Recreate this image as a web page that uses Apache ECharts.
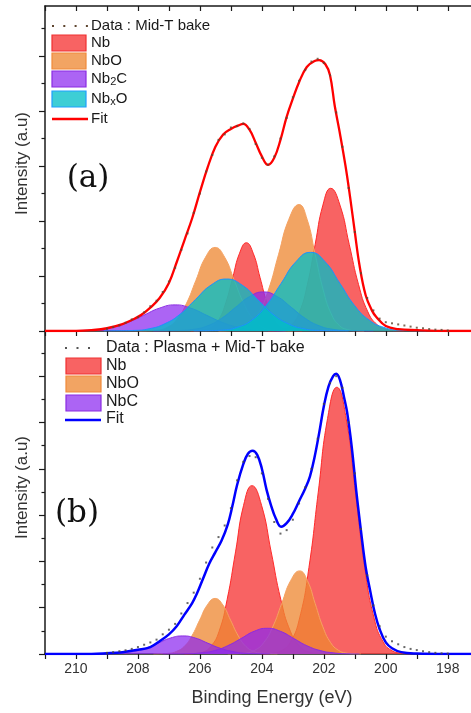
<!DOCTYPE html>
<html>
<head>
<meta charset="utf-8">
<title>Nb 3d fits</title>
<script src="https://cdn.jsdelivr.net/npm/echarts@6.0.0/dist/echarts.min.js"></script>
<style>
  html, body { margin: 0; padding: 0; background: #fff; }
  #chart { width: 471px; height: 713px; }
</style>
</head>
<body>
<div id="chart"></div>
<script>
// ---- axes ----
const X_MIN = 197.25;
const X_MAX = 211;
const xTicks = [198, 199, 200, 201, 202, 203, 204, 205, 206, 207, 208, 209, 210, 211];
const xLabels = [198, 200, 202, 204, 206, 208, 210];
const Y_MAX_A = 11.82;
const Y_MAX_B = 13.95;
const yMajorA = [0, 2, 4, 6, 8, 10];
const yMinorA = [1, 3, 5, 7, 9, 11];
const yMajorB = [0, 2, 4, 6, 8, 10, 12];
const yMinorB = [1, 3, 5, 7, 9, 11, 13];

// ---- (a) Mid-T bake : fitted components, [binding energy, intensity] ----
const nbA1 = [[203.8,0],[203.53,0.01],[203.28,0.06],[203.03,0.23],[202.78,0.70],[202.53,1.69],[202.28,3.15],[202.03,4.58],[201.78,5.19],[201.48,4.58],[201.18,3.15],[200.88,1.69],[200.58,0.70],[200.28,0.23],[199.98,0.06],[199.68,0.01],[199.4,0]];
const nbA2 = [[206.3,0],[206.04,0.01],[205.82,0.04],[205.6,0.14],[205.38,0.43],[205.16,1.04],[204.94,1.95],[204.72,2.83],[204.5,3.21],[204.28,2.83],[204.06,1.95],[203.84,1.04],[203.62,0.43],[203.4,0.14],[203.18,0.04],[202.96,0.01],[202.7,0]];
const nboA1 = [[205.4,0],[205.11,0.01],[204.78,0.05],[204.45,0.2],[204.12,0.62],[203.79,1.49],[203.46,2.79],[203.13,4.06],[202.8,4.6],[202.54,4.06],[202.28,2.79],[202.02,1.49],[201.76,0.62],[201.5,0.2],[201.24,0.05],[200.98,0.01],[200.7,0]];
const nboA2 = [[208.0,0],[207.68,0.01],[207.37,0.03],[207.06,0.13],[206.75,0.41],[206.44,0.99],[206.13,1.84],[205.82,2.68],[205.51,3.04],[205.2,2.68],[204.89,1.84],[204.58,0.99],[204.27,0.41],[203.96,0.13],[203.65,0.03],[203.34,0.01],[203.0,0]];
const nb2cA1 = [[207.5,0],[207.1,0.01],[206.65,0.02],[206.2,0.06],[205.75,0.19],[205.3,0.46],[204.85,0.86],[204.4,1.25],[203.95,1.42],[203.5,1.25],[203.05,0.86],[202.6,0.46],[202.15,0.19],[201.7,0.06],[201.25,0.02],[200.8,0.01],[200.4,0]];
const nb2cA2 = [[210.8,0],[210.37,0.01],[209.86,0.02],[209.35,0.04],[208.84,0.13],[208.33,0.31],[207.82,0.57],[207.31,0.83],[206.8,0.95],[206.29,0.83],[205.78,0.57],[205.27,0.31],[204.76,0.13],[204.25,0.04],[203.74,0.01],[203.23,0]];
const nbxoA1 = [[206.2,0],[205.76,0.01],[205.28,0.03],[204.81,0.13],[204.33,0.39],[203.86,0.93],[203.38,1.73],[202.9,2.52],[202.43,2.86],[201.96,2.52],[201.48,1.73],[201.01,0.93],[200.53,0.39],[200.06,0.13],[199.58,0.03],[199.11,0.01],[198.7,0]];
const nbxoA2 = [[209.1,0],[208.64,0.01],[208.14,0.02],[207.64,0.08],[207.14,0.26],[206.64,0.61],[206.14,1.15],[205.64,1.67],[205.14,1.89],[204.64,1.67],[204.14,1.15],[203.64,0.61],[203.14,0.26],[202.64,0.08],[202.14,0.02],[201.64,0.01],[201.2,0]];
const fitA = [[211.0,0],[210.0,0],[209.5,0.03],[209.0,0.1],[208.5,0.25],[208.2,0.4],[207.9,0.58],[207.6,0.85],[207.3,1.2],[207.0,1.75],[206.75,2.5],[206.5,3.3],[206.25,4.1],[206.0,5.05],[205.75,5.95],[205.5,6.7],[205.25,7.15],[205.0,7.35],[204.75,7.48],[204.6,7.53],[204.4,7.32],[204.2,6.85],[204.0,6.35],[203.8,6.04],[203.6,6.3],[203.4,6.95],[203.2,7.79],[203.0,8.45],[202.8,9.05],[202.55,9.6],[202.3,9.82],[202.15,9.85],[201.95,9.7],[201.8,9.3],[201.65,8.2],[201.5,7.3],[201.3,6.0],[201.15,4.85],[201.0,3.6],[200.85,2.4],[200.65,1.3],[200.45,0.75],[200.3,0.5],[200.0,0.18],[199.6,0.07],[199.0,0.03],[198.0,0],[197.25,0]];

// ---- (b) Plasma + Mid-T bake ----
const nbB1 = [[204.0,0],[203.68,0.03],[203.38,0.13],[203.08,0.51],[202.78,1.56],[202.48,3.74],[202.18,6.99],[201.88,10.17],[201.58,11.52],[201.28,10.17],[200.98,6.99],[200.68,3.74],[200.38,1.56],[200.08,0.51],[199.78,0.13],[199.48,0.03],[199.2,0]];
const nbB2 = [[206.5,0],[206.18,0.02],[205.91,0.08],[205.65,0.32],[205.38,0.98],[205.12,2.36],[204.85,4.41],[204.59,6.42],[204.32,7.27],[204.01,6.42],[203.7,4.41],[203.39,2.36],[203.08,0.98],[202.77,0.32],[202.46,0.08],[202.15,0.02],[201.8,0]];
const nboB1 = [[205.1,0],[204.81,0.01],[204.52,0.04],[204.23,0.16],[203.94,0.49],[203.65,1.17],[203.36,2.18],[203.07,3.17],[202.78,3.59],[202.53,3.17],[202.28,2.18],[202.03,1.17],[201.78,0.49],[201.53,0.16],[201.28,0.04],[201.03,0.01],[200.8,0]];
const nboB2 = [[207.5,0],[207.26,0.01],[207.01,0.03],[206.76,0.11],[206.51,0.32],[206.26,0.78],[206.01,1.46],[205.76,2.12],[205.51,2.4],[205.26,2.12],[205.01,1.46],[204.76,0.78],[204.51,0.32],[204.26,0.11],[204.01,0.03],[203.76,0.01],[203.5,0]];
const nbcB1 = [[207.2,0],[206.8,0],[206.37,0.01],[205.95,0.05],[205.52,0.15],[205.1,0.36],[204.67,0.67],[204.25,0.98],[203.82,1.11],[203.4,0.98],[202.97,0.67],[202.55,0.36],[202.12,0.15],[201.7,0.05],[201.27,0.01],[200.85,0]];
const nbcB2 = [[209.8,0],[209.35,0],[208.95,0.01],[208.55,0.03],[208.15,0.11],[207.75,0.25],[207.35,0.47],[206.95,0.69],[206.55,0.78],[206.15,0.69],[205.75,0.47],[205.35,0.25],[204.95,0.11],[204.55,0.03],[204.15,0.01],[203.75,0]];
const fitB = [[211.0,0],[209.5,0],[209.0,0.03],[208.5,0.08],[208.0,0.18],[207.6,0.3],[207.3,0.55],[207.0,0.85],[206.75,1.2],[206.5,1.7],[206.25,2.2],[206.1,2.6],[205.9,3.25],[205.7,3.9],[205.5,4.4],[205.3,4.9],[205.1,5.6],[204.95,6.4],[204.8,7.3],[204.6,8.2],[204.45,8.65],[204.3,8.78],[204.15,8.6],[204.0,8.0],[203.85,7.1],[203.7,6.4],[203.55,5.85],[203.38,5.5],[203.2,5.65],[203.0,6.05],[202.8,6.6],[202.6,7.15],[202.45,7.66],[202.3,8.5],[202.15,9.55],[202.0,10.7],[201.85,11.55],[201.7,12.0],[201.6,12.1],[201.48,11.84],[201.35,11.1],[201.25,10.45],[201.1,8.95],[200.95,7.0],[200.8,5.3],[200.65,3.75],[200.5,2.7],[200.35,1.75],[200.2,1.08],[200.0,0.5],[199.8,0.25],[199.5,0.08],[199.0,0.02],[198.0,0],[197.25,0]];

// ---- measured points (shared energy grid) ----
const dataE = [209.0, 208.8, 208.6, 208.4, 208.2, 208.0, 207.8, 207.6, 207.4, 207.2,
  207.0, 206.8, 206.6, 206.4, 206.2, 206.0, 205.8, 205.6, 205.4, 205.2,
  205.0, 204.8, 204.6, 204.4, 204.2, 204.0, 203.8, 203.6, 203.4, 203.2,
  203.0, 202.8, 202.6, 202.4, 202.2, 202.0, 201.8, 201.6, 201.4, 201.2,
  201.0, 200.8, 200.6, 200.4, 200.2, 200.0, 199.8, 199.6, 199.4, 199.2,
  199.0, 198.8, 198.6, 198.4, 198.2, 198.0];
const dataA = [0.08, 0.14, 0.20, 0.30, 0.42, 0.50, 0.68, 0.90, 1.10, 1.42,
  1.80, 2.30, 2.95, 3.55, 4.30, 5.00, 5.80, 6.40, 6.95, 7.15,
  7.40, 7.45, 7.55, 7.35, 6.80, 6.30, 6.05, 6.35, 7.00, 7.75,
  8.50, 9.10, 9.50, 9.80, 9.90, 9.75, 9.30, 7.95, 6.70, 5.20,
  3.60, 2.10, 1.20, 0.75, 0.45, 0.32, 0.28, 0.24, 0.20, 0.16,
  0.12, 0.10, 0.07, 0.05, 0.04, 0.02];
const dataB = [0.05, 0.08, 0.12, 0.16, 0.22, 0.30, 0.40, 0.50, 0.62, 0.85,
  1.05, 1.30, 1.75, 2.20, 2.65, 3.25, 3.95, 4.60, 5.05, 5.55,
  6.30, 7.50, 8.30, 8.55, 8.50, 7.80, 6.70, 5.70, 5.20, 5.35,
  5.80, 6.50, 7.20, 8.00, 9.30, 10.80, 11.70, 12.00, 11.50, 10.00,
  7.80, 5.40, 3.40, 2.10, 1.20, 0.75, 0.55, 0.42, 0.30, 0.22,
  0.17, 0.12, 0.08, 0.05, 0.03, 0.02];

const FONT = "'Liberation Sans', Arial, sans-serif";
const INK = '#1a1a1a';
const COL = {
  nb:   { fill: 'rgba(246,60,60,0.8)',  line: '#ff2a2a', edge: '#f03030' },
  nbo:  { fill: 'rgba(238,136,50,0.76)', line: '#f5a262', edge: '#f08a3a' },
  nbc:  { fill: 'rgba(140,40,240,0.72)', line: '#8a2be2', edge: '#8a2be2' },
  nbxo: { fill: 'rgba(0,190,200,0.76)',  line: '#1e90ff', edge: '#1e9fff' }
};

function peak(name, data, panel, c, z) {
  return {
    name, type: 'line', data,
    xAxisIndex: panel === 0 ? 0 : 2, yAxisIndex: panel === 0 ? 0 : 2,
    smooth: 0.5, symbol: 'none', silent: true, z,
    lineStyle: { color: c.line, width: 1 },
    areaStyle: { color: c.fill, opacity: 1 }
  };
}

function fitLine(name, data, panel, color, width) {
  return {
    name, type: 'line', data,
    xAxisIndex: panel === 0 ? 0 : 2, yAxisIndex: panel === 0 ? 0 : 2,
    smooth: 0.4, symbol: 'none', silent: true, z: 10,
    lineStyle: { color, width }
  };
}

function dots(name, vals, panel, color) {
  return {
    name, type: 'scatter', data: dataE.map((e, i) => [e, vals[i]]),
    xAxisIndex: panel === 0 ? 0 : 2, yAxisIndex: panel === 0 ? 0 : 2,
    symbol: 'rect', symbolSize: 2, silent: true, z: 11,
    itemStyle: { color }
  };
}

const lineStyle = { color: INK, width: 1.5 };

function xAxis(grid, position, inside, labels) {
  return {
    gridIndex: grid, type: 'value', min: X_MIN, max: X_MAX, inverse: true, position,
    axisLine: { show: true, onZero: false, lineStyle },
    axisTick: { show: true, inside, length: 5, customValues: xTicks, lineStyle: { color: INK, width: 1.2 } },
    axisLabel: labels ? { show: true, customValues: xLabels, margin: 8, fontSize: 14, color: '#333', fontFamily: FONT } : { show: false },
    splitLine: { show: false }
  };
}

function yAxis(grid, max, ticks, len, main) {
  const ax = {
    gridIndex: grid, type: 'value', min: 0, max, position: 'left',
    axisLine: { show: main, onZero: false, lineStyle },
    axisTick: { show: true, length: len, customValues: ticks, lineStyle: { color: INK, width: 1.2 } },
    axisLabel: { show: false },
    splitLine: { show: false }
  };
  if (main) {
    ax.name = 'Intensity (a.u)';
    ax.nameLocation = 'middle';
    ax.nameGap = 14;
    ax.nameTextStyle = { fontSize: 17, color: '#333', fontFamily: FONT, padding: [0, 0, 0, 10] };
  }
  return ax;
}

// legend drawn as graphic: swatches, dotted data line, fit line, labels
function label(x, y, text, size) {
  return {
    type: 'text', x, y, silent: true,
    style: {
      text, fontSize: size, fontFamily: FONT, fill: INK, align: 'left', verticalAlign: 'middle',
      rich: {
        n: { fontSize: size, fontFamily: FONT, fill: INK, lineHeight: size + 2 },
        s: { fontSize: size - 4, fontFamily: FONT, fill: INK, lineHeight: size - 4, verticalAlign: 'bottom' }
      }
    }
  };
}
function swatch(x, y, w, c) {
  return { type: 'rect', silent: true, shape: { x, y, width: w, height: 16 }, style: { fill: c.fill, stroke: c.edge, lineWidth: 1.2 } };
}
function hline(x1, x2, y, stroke, width, dash) {
  return { type: 'line', silent: true, shape: { x1, y1: y, x2, y2: y }, style: { stroke, lineWidth: width, lineDash: dash || null } };
}

const legendA = [
  hline(52, 88, 26, '#5e4630', 2, [2, 9.3]),
  label(91, 26, 'Data : Mid-T bake', 15),
  swatch(52, 35, 34, COL.nb), label(91, 43, 'Nb', 15),
  swatch(52, 53, 34, COL.nbo), label(91, 61, 'NbO', 15),
  swatch(52, 71, 34, COL.nbc), label(91, 79, '{n|Nb}{s|2}{n|C}', 15),
  swatch(52, 91, 34, COL.nbxo), label(91, 99, '{n|Nb}{s|x}{n|O}', 15),
  hline(52, 88, 119, '#ff0000', 2.5), label(91, 119, 'Fit', 15)
];
const legendB = [
  hline(65, 99, 348, '#555555', 2, [2, 9.5]),
  label(106, 348, 'Data : Plasma + Mid-T bake', 16),
  swatch(66, 358, 35, COL.nb), label(106, 366, 'Nb', 16),
  swatch(66, 376, 35, COL.nbo), label(106, 384, 'NbO', 16),
  swatch(66, 395, 35, COL.nbc), label(106, 402, 'NbC', 16),
  hline(65, 101, 420, '#0000ff', 2.5), label(106, 419, 'Fit', 16)
];
const panelTags = [
  { type: 'text', x: 88, y: 179, silent: true, style: { text: '(a)', fontSize: 31, fontFamily: "'DejaVu Serif', serif", fill: '#111', align: 'center', verticalAlign: 'middle' } },
  { type: 'text', x: 77, y: 514, silent: true, style: { text: '(b)', fontSize: 31, fontFamily: "'DejaVu Serif', serif", fill: '#111', align: 'center', verticalAlign: 'middle' } }
];

const chart = echarts.init(document.getElementById('chart'), null, { renderer: 'canvas' });
chart.setOption({
  backgroundColor: '#ffffff',
  animation: false,
  grid: [
    { left: 45, right: 0, top: 6, height: 325, outerBoundsMode: 'none' },
    { left: 45, right: 0, top: 331, height: 323, outerBoundsMode: 'none' }
  ],
  xAxis: [
    xAxis(0, 'bottom', false, false),
    xAxis(0, 'top', true, false),
    Object.assign(xAxis(1, 'bottom', false, true), {
      name: 'Binding Energy (eV)', nameLocation: 'middle', nameGap: 35,
      nameTextStyle: { fontSize: 18, color: '#333', fontFamily: FONT, padding: [0, 0, 0, 28] }
    })
  ],
  yAxis: [
    yAxis(0, Y_MAX_A, yMajorA, 6, true),
    yAxis(0, Y_MAX_A, yMinorA, 3.5, false),
    yAxis(1, Y_MAX_B, yMajorB, 6, true),
    yAxis(1, Y_MAX_B, yMinorB, 3.5, false)
  ],
  series: [
    peak('Nb', nbA1, 0, COL.nb, 2), peak('Nb', nbA2, 0, COL.nb, 2),
    peak('NbO', nboA1, 0, COL.nbo, 3), peak('NbO', nboA2, 0, COL.nbo, 3),
    peak('Nb2C', nb2cA1, 0, COL.nbc, 4), peak('Nb2C', nb2cA2, 0, COL.nbc, 4),
    peak('NbxO', nbxoA1, 0, COL.nbxo, 5), peak('NbxO', nbxoA2, 0, COL.nbxo, 5),
    fitLine('Fit', fitA, 0, '#ff0000', 2.3),
    dots('Data : Mid-T bake', dataA, 0, '#5e4630'),

    peak('Nb', nbB1, 1, COL.nb, 2), peak('Nb', nbB2, 1, COL.nb, 2),
    peak('NbO', nboB1, 1, COL.nbo, 3), peak('NbO', nboB2, 1, COL.nbo, 3),
    peak('NbC', nbcB1, 1, COL.nbc, 4), peak('NbC', nbcB2, 1, COL.nbc, 4),
    fitLine('Fit', fitB, 1, '#0000ff', 2.5),
    dots('Data : Plasma + Mid-T bake', dataB, 1, '#444444')
  ],
  graphic: legendA.concat(legendB, panelTags)
});
</script>
</body>
</html>
